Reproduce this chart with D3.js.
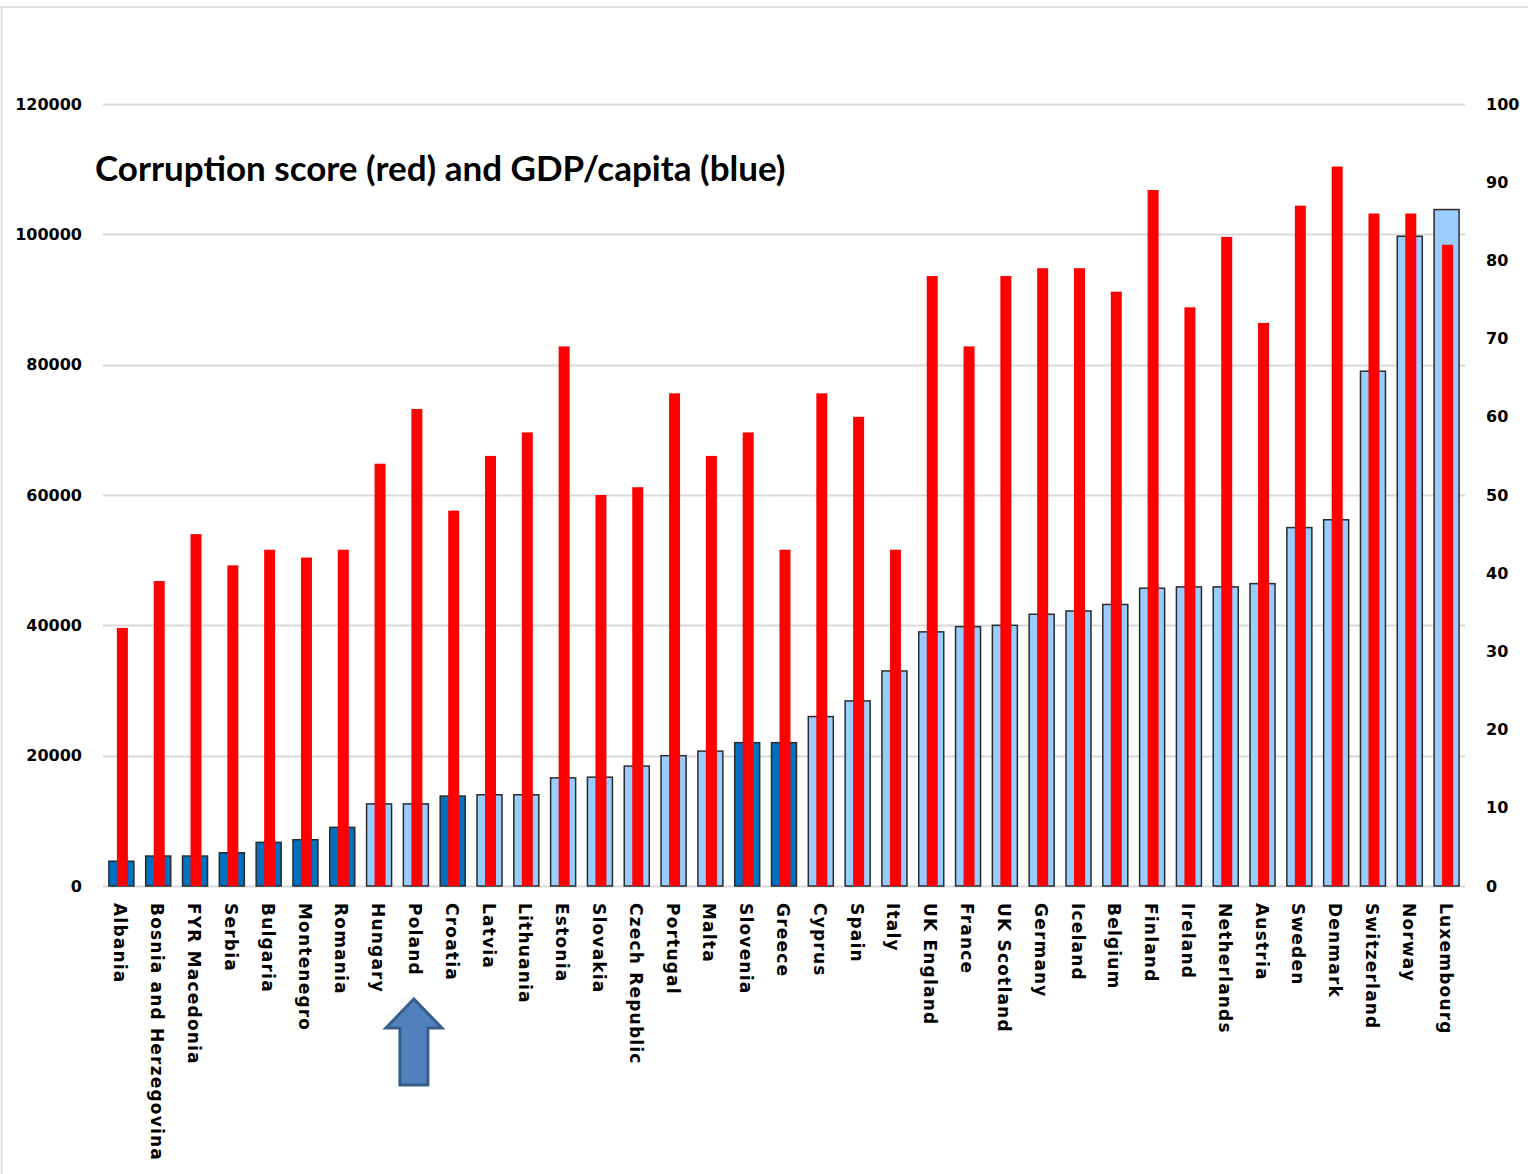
<!DOCTYPE html>
<html>
<head>
<meta charset="utf-8">
<script src="https://cdnjs.cloudflare.com/ajax/libs/d3/7.8.5/d3.min.js"></script>
<style>
  body { margin: 0; background: #fff; }
  svg { display: block; }
</style>
</head>
<body>
<div id="chart"></div>
<script>
// data
var countries = ["Albania", "Bosnia and Herzegovina", "FYR Macedonia", "Serbia", "Bulgaria", "Montenegro",
    "Romania", "Hungary", "Poland", "Croatia", "Latvia", "Lithuania", "Estonia", "Slovakia",
    "Czech Republic", "Portugal", "Malta", "Slovenia", "Greece", "Cyprus", "Spain", "Italy",
    "UK England", "France", "UK Scotland", "Germany", "Iceland", "Belgium", "Finland", "Ireland",
    "Netherlands", "Austria", "Sweden", "Denmark", "Switzerland", "Norway", "Luxembourg"];

var gdpPerCapita = [3800, 4600, 4600, 5100, 6700, 7100, 9000, 12600, 12600, 13800, 14000, 14000,
    16600, 16700, 18400, 20000, 20700, 22000, 22000, 26000, 28400, 33000, 39000, 39800, 40000,
    41700, 42200, 43200, 45700, 45900, 45900, 46400, 55000, 56200, 79000, 99700, 103800];

var corruptionScore = [33, 39, 45, 41, 43, 42, 43, 54, 61, 48, 55, 58, 69, 50, 51, 63, 55, 58, 43,
    63, 60, 43, 78, 69, 78, 79, 79, 76, 89, 74, 83, 72, 87, 92, 86, 86, 82];

// countries drawn in the darker blue
var darkGroup = ["Albania", "Bosnia and Herzegovina", "FYR Macedonia", "Serbia", "Bulgaria",
    "Montenegro", "Romania", "Croatia", "Slovenia", "Greece"];

var leftTicks = [0, 20000, 40000, 60000, 80000, 100000, 120000];
var rightTicks = [0, 10, 20, 30, 40, 50, 60, 70, 80, 90, 100];

var titleText = "Corruption score (red) and GDP/capita (blue)";
var arrowCountry = "Poland";

var W = 1528, H = 1174;
var margin = { top: 104, right: 63, bottom: 288, left: 103 },
    width = W - margin.left - margin.right,
    height = H - margin.top - margin.bottom;

var svg = d3.select("#chart").append("svg")
    .attr("width", W)
    .attr("height", H);

// thin frame on top and left
svg.append("line").attr("x1", 0).attr("x2", W).attr("y1", 7).attr("y2", 7)
    .attr("stroke", "#e0e0e0").attr("stroke-width", 2);
svg.append("line").attr("x1", 1.5).attr("x2", 1.5).attr("y1", 6).attr("y2", H)
    .attr("stroke", "#e0e0e0").attr("stroke-width", 2);

var g = svg.append("g")
    .attr("transform", "translate(" + margin.left + "," + margin.top + ")");

var x = d3.scaleBand().domain(countries).range([0, width]).padding(0);
var yL = d3.scaleLinear().domain([0, 120000]).range([height, 0]);
var yR = d3.scaleLinear().domain([0, 100]).range([height, 0]);

// gridlines
g.append("g")
    .selectAll("line")
    .data(leftTicks)
    .enter().append("line")
    .attr("x1", 0)
    .attr("x2", width)
    .attr("y1", function(d) { return Math.round(yL(d)) + 0.5; })
    .attr("y2", function(d) { return Math.round(yL(d)) + 0.5; })
    .attr("stroke", "#d9d9d9")
    .attr("stroke-width", 2);

// left axis
var axL = g.append("g")
    .call(d3.axisLeft(yL).tickValues(leftTicks).tickFormat(d3.format("d")).tickSize(0).tickPadding(21));
axL.select(".domain").remove();
axL.selectAll("text")
    .style("font-family", "'DejaVu Sans', Verdana, sans-serif")
    .style("font-weight", "bold")
    .style("font-size", "16px")
    .attr("fill", "#000");

// right axis
var axR = g.append("g")
    .attr("transform", "translate(" + width + ",0)")
    .call(d3.axisRight(yR).tickValues(rightTicks).tickSize(0).tickPadding(21));
axR.select(".domain").remove();
axR.selectAll("text")
    .style("font-family", "'DejaVu Sans', Verdana, sans-serif")
    .style("font-weight", "bold")
    .style("font-size", "16px")
    .attr("fill", "#000");

// GDP bars
var blueW = 25;
g.append("g")
    .selectAll("rect")
    .data(countries)
    .enter().append("rect")
    .attr("x", function(d) { return x(d) + x.bandwidth() / 2 - blueW / 2; })
    .attr("y", function(d, i) { return yL(gdpPerCapita[i]); })
    .attr("width", blueW)
    .attr("height", function(d, i) { return height - yL(gdpPerCapita[i]); })
    .attr("fill", function(d) { return darkGroup.indexOf(d) >= 0 ? "#0070c0" : "#99ccff"; })
    .attr("stroke", "#2b2b2b")
    .attr("stroke-width", 1.5);

// corruption bars
var redW = 11;
g.append("g")
    .selectAll("rect")
    .data(countries)
    .enter().append("rect")
    .attr("x", function(d) { return x(d) + x.bandwidth() / 2 - redW / 2 + 1; })
    .attr("y", function(d, i) { return yR(corruptionScore[i]); })
    .attr("width", redW)
    .attr("height", function(d, i) { return height - yR(corruptionScore[i]); })
    .attr("fill", "#ff0000");

// category labels, rotated
g.append("g")
    .selectAll("text")
    .data(countries)
    .enter().append("text")
    .attr("transform", function(d) {
        return "translate(" + (x(d) + x.bandwidth() / 2 - 1) + "," + (height + 17) + ") rotate(90)";
    })
    .attr("dy", "0.35em")
    .text(function(d) { return d; })
    .style("font-family", "'DejaVu Sans', Verdana, sans-serif")
    .style("font-weight", "bold")
    .style("font-size", "17px")
    .style("letter-spacing", "1.2px")
    .attr("fill", "#000");

// title
svg.append("text")
    .attr("x", 95)
    .attr("y", 181)
    .text(titleText)
    .style("font-family", "Lato, 'Open Sans', sans-serif")
    .style("font-weight", "bold")
    .style("font-size", "35px")
    .attr("fill", "#000");

// arrow under Poland
var ax = margin.left + x(arrowCountry) + x.bandwidth() / 2 - 2;
var arrowPts = [[0, 0], [28, 29], [14, 29], [14, 86], [-14, 86], [-14, 29], [-28, 29]];
svg.append("path")
    .attr("d", d3.line()(arrowPts.map(function(p) { return [ax + p[0], 999 + p[1]]; })) + "Z")
    .attr("fill", "#4f81bd")
    .attr("stroke", "#385d8a")
    .attr("stroke-width", 3)
    .attr("stroke-linejoin", "miter");
</script>
</body>
</html>
